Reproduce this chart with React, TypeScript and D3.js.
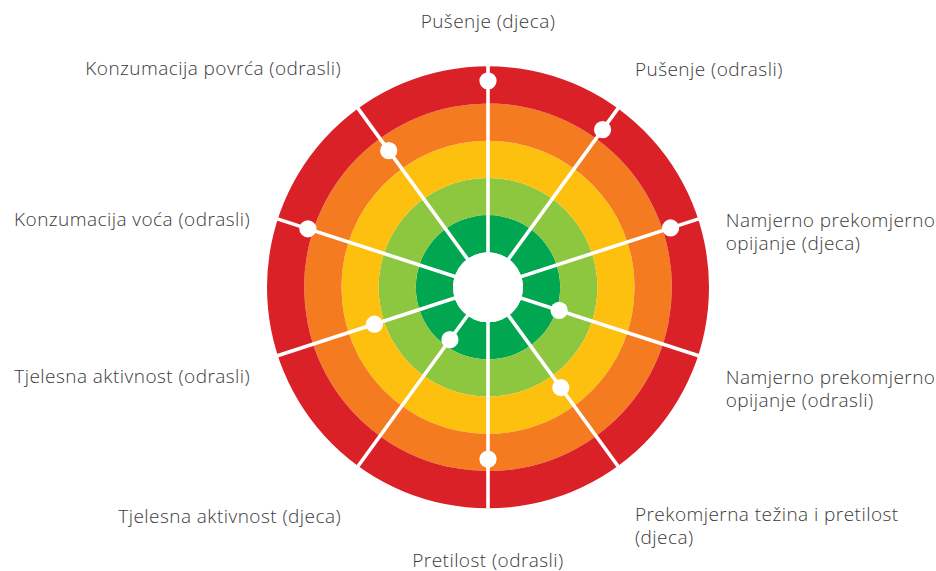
import React from "react";
import * as d3 from "d3";

// categories, clockwise from the top (each one can have 1 or 2 lines)
const categories: string[][] = [
  ["Pušenje (djeca)"],
  ["Pušenje (odrasli)"],
  ["Namjerno prekomjerno", "opijanje (djeca)"],
  ["Namjerno prekomjerno", "opijanje (odrasli)"],
  ["Prekomjerna težina i pretilost", "(djeca)"],
  ["Pretilost (odrasli)"],
  ["Tjelesna aktivnost (djeca)"],
  ["Tjelesna aktivnost (odrasli)"],
  ["Konzumacija voća (odrasli)"],
  ["Konzumacija povrća (odrasli)"],
];

// position of each dot on the 0..5 band scale (0 = inner edge, 5 = outer edge)
const values: number[] = [4.61, 4.3, 4.22, 1.07, 2.39, 3.68, 0.8, 2.27, 4.15, 3.6];

// band colours from inside to outside
const bandColors: string[] = ["#00a650", "#8dc63f", "#fdc00f", "#f47b20", "#da2128"];

const W = 936;
const H = 571;
const cx = 488;
const cy = 287.3;
const innerR = 35;
const outerR = 221;
const labelR = 250;
const lineH = 23;

// vertical nudges for the label text blocks (layout only)
const labelDy = [-9, -9, 17, 19, 31, 30, 33, 18, 16, -10];

export default function App() {
  const n = categories.length;
  const r = d3.scaleLinear().domain([0, bandColors.length]).range([innerR, outerR]);
  const angle = d3
    .scaleLinear()
    .domain([0, n])
    .range([0, 2 * Math.PI]);

  const arc = d3.arc<number>()
    .innerRadius((d) => r(d))
    .outerRadius((d) => r(d + 1))
    .startAngle(0)
    .endAngle(2 * Math.PI);

  const polar = (rad: number, a: number): [number, number] => [
    cx + rad * Math.sin(a),
    cy - rad * Math.cos(a),
  ];

  return (
    <svg
      width={W}
      height={H}
      style={{ position: "absolute", left: 0, top: 0, display: "block" }}
      fontFamily="'Open Sans', sans-serif"
    >
      <rect width={W} height={H} fill="#fff" />
      <g transform={`translate(${cx},${cy})`}>
        {bandColors.map((c, i) => (
          <path key={i} d={arc(i) || ""} fill={c} />
        ))}
        <circle r={innerR} fill="#fff" />
      </g>

      {/* spokes */}
      {categories.map((_, i) => {
        const a = angle(i);
        const [x1, y1] = polar(0, a);
        const [x2, y2] = polar(outerR + 0.5, a);
        return (
          <line key={i} x1={x1} y1={y1} x2={x2} y2={y2} stroke="#fff" strokeWidth={3.6} />
        );
      })}

      {/* dots */}
      {values.map((v, i) => {
        const [x, y] = polar(r(v), angle(i));
        return <circle key={i} cx={x} cy={y} r={8.6} fill="#fff" />;
      })}

      {/* labels */}
      {categories.map((lines, i) => {
        const a = angle(i);
        const [x, y] = polar(labelR, a);
        const s = Math.sin(a);
        const anchor = Math.abs(s) < 0.01 ? "middle" : s > 0 ? "start" : "end";
        return (
          <text
            key={i}
            x={x}
            y={y + labelDy[i]}
            textAnchor={anchor}
            fontSize={19}
            fontWeight={300}
            letterSpacing={0.45}
            fill="#3a3a3a"
          >
            {lines.map((l, j) => (
              <tspan key={j} x={x} dy={j === 0 ? 0 : lineH}>
                {l}
              </tspan>
            ))}
          </text>
        );
      })}
    </svg>
  );
}
